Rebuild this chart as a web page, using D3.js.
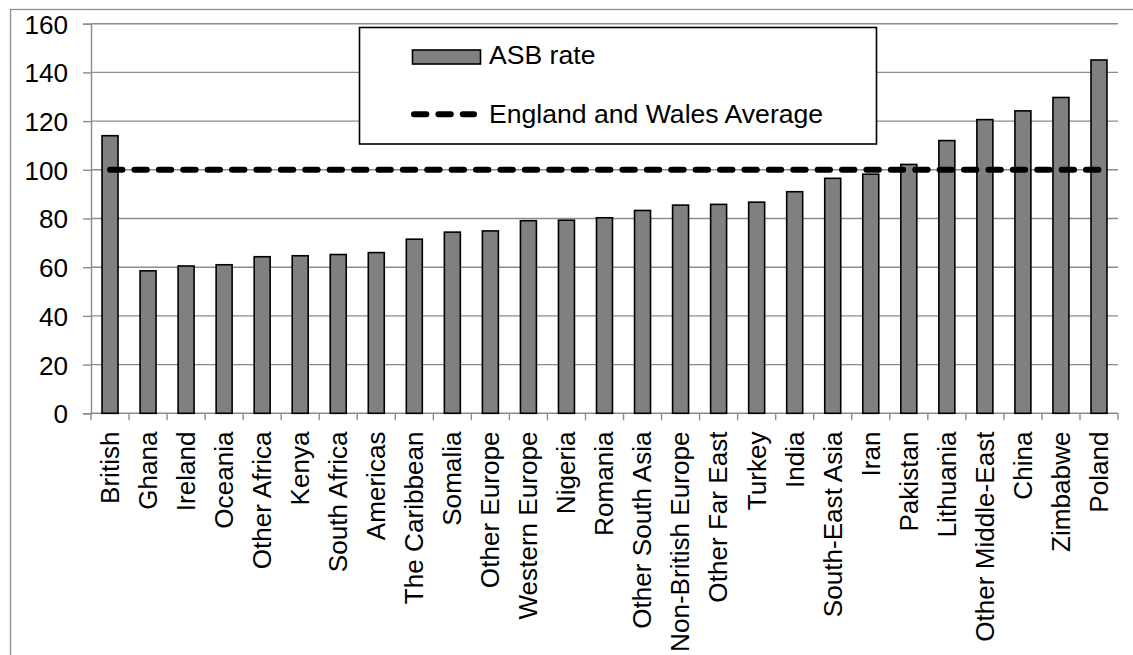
<!DOCTYPE html>
<html>
<head>
<meta charset="utf-8">
<script src="https://cdn.jsdelivr.net/npm/d3@7"></script>
<style>
  html, body { margin: 0; padding: 0; background: #fff; }
  svg { display: block; font-family: "Liberation Sans", Arial, sans-serif; }
</style>
</head>
<body>
<svg id="chart" width="1133" height="655"></svg>
<script>
// ASB rate by country of birth, with the England and Wales average as reference
const categories = ["British", "Ghana", "Ireland", "Oceania", "Other Africa", "Kenya",
  "South Africa", "Americas", "The Caribbean", "Somalia", "Other Europe", "Western Europe",
  "Nigeria", "Romania", "Other South Asia", "Non-British Europe", "Other Far East", "Turkey",
  "India", "South-East Asia", "Iran", "Pakistan", "Lithuania", "Other Middle-East", "China",
  "Zimbabwe", "Poland"];
const asbRate = [114, 58.5, 60.5, 61, 64.3, 64.7, 65.2, 66, 71.5, 74.4, 74.9, 79.1,
  79.3, 80.3, 83.3, 85.5, 85.8, 86.7, 91, 96.5, 98.2, 102.2, 112, 120.6, 124.2, 129.7, 145.1];
const averageValue = 100;
const yTicks = [0, 20, 40, 60, 80, 100, 120, 140, 160];
const legendLabels = ["ASB rate", "England and Wales Average"];

const svg = d3.select("#chart");
const plot = { left: 91, right: 1118, top: 23.7, bottom: 413.3 };
const AXIS_FONT = 26.1;
const LEGEND_FONT = 26.6;
const GRID = "#8c8c8c";

// outer chart frame
svg.append("rect")
  .attr("x", 10.5).attr("y", 9.5).attr("width", 1300).attr("height", 900)
  .attr("fill", "#fff").attr("stroke", GRID).attr("stroke-width", 1.3);

const x = d3.scaleBand().domain(categories).range([plot.left, plot.right]).padding(0);
const y = d3.scaleLinear().domain([0, 160]).range([plot.bottom, plot.top]);

// horizontal gridlines
svg.append("g").selectAll("line").data(yTicks.filter(d => d > 0)).join("line")
  .attr("x1", plot.left).attr("x2", plot.right)
  .attr("y1", d => y(d)).attr("y2", d => y(d))
  .attr("stroke", GRID).attr("stroke-width", 1.4);

// y axis
const yAxis = svg.append("g").attr("transform", `translate(${plot.left},0)`)
  .call(d3.axisLeft(y).tickValues(yTicks).tickSize(8).tickPadding(15).tickFormat(d3.format("d")));
yAxis.select(".domain").attr("stroke", GRID).attr("stroke-width", 1.4);
yAxis.selectAll(".tick line").attr("stroke", GRID).attr("stroke-width", 1.4);
yAxis.selectAll(".tick text").attr("font-size", AXIS_FONT).attr("fill", "#000")
  .attr("font-family", "Liberation Sans, Arial, sans-serif").attr("dy", "0.36em");

// x axis: ticks on category boundaries
const xg = svg.append("g");
xg.append("line").attr("x1", plot.left).attr("x2", plot.right)
  .attr("y1", y(0)).attr("y2", y(0)).attr("stroke", GRID).attr("stroke-width", 1.4);
const boundaries = categories.map(c => x(c)).concat([x(categories[categories.length - 1]) + x.bandwidth()]);
xg.selectAll("line.tk").data(boundaries).join("line").attr("class", "tk")
  .attr("x1", d => d).attr("x2", d => d)
  .attr("y1", y(0)).attr("y2", y(0) + 7)
  .attr("stroke", GRID).attr("stroke-width", 1.4);
xg.selectAll("text").data(categories).join("text")
  .attr("transform", d => `translate(${x(d) + x.bandwidth() / 2},431.5) rotate(-90)`)
  .attr("dy", "0.34em")
  .attr("text-anchor", "end")
  .attr("font-size", AXIS_FONT)
  .text(d => d);

// bars
const barW = x.bandwidth() * 0.42;
svg.append("g").selectAll("rect").data(asbRate).join("rect")
  .attr("x", (d, i) => x(categories[i]) + (x.bandwidth() - barW) / 2)
  .attr("width", barW)
  .attr("y", d => y(d))
  .attr("height", d => y(0) - y(d))
  .attr("fill", "#808080").attr("stroke", "#000").attr("stroke-width", 1.6);

// England and Wales average line
const avgLine = d3.line().x(d => x(d) + x.bandwidth() / 2).y(() => y(averageValue));
svg.append("path").datum(categories)
  .attr("d", avgLine)
  .attr("fill", "none").attr("stroke", "#000").attr("stroke-width", 6)
  .attr("stroke-linecap", "round").attr("stroke-dasharray", "12.4 12");

// legend
const lg = svg.append("g");
lg.append("rect").attr("x", 359.5).attr("y", 27.5).attr("width", 517).attr("height", 116.5)
  .attr("fill", "#fff").attr("stroke", "#000").attr("stroke-width", 1.6);
lg.append("rect").attr("x", 412.5).attr("y", 50).attr("width", 68).attr("height", 14)
  .attr("fill", "#808080").attr("stroke", "#000").attr("stroke-width", 1.6);
lg.append("line").attr("x1", 414).attr("x2", 474).attr("y1", 114.3).attr("y2", 114.3)
  .attr("stroke", "#000").attr("stroke-width", 6)
  .attr("stroke-linecap", "round").attr("stroke-dasharray", "12.4 12");
lg.selectAll("text").data(legendLabels).join("text")
  .attr("x", 489).attr("y", (d, i) => i === 0 ? 64 : 123)
  .attr("font-size", LEGEND_FONT)
  .text(d => d);
</script>
</body>
</html>
